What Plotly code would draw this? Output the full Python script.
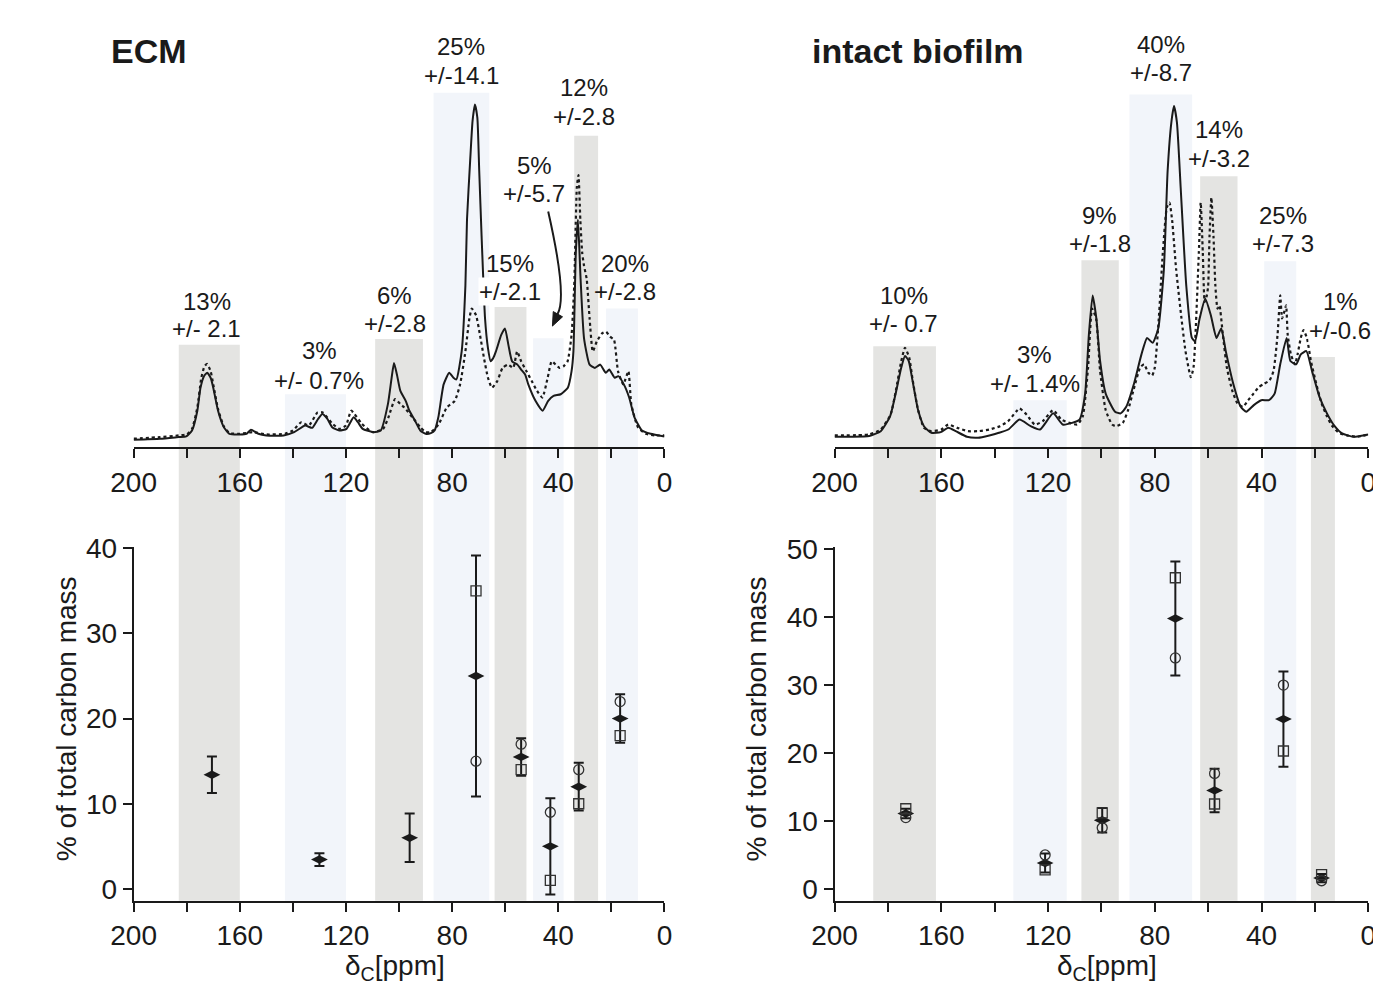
import plotly.graph_objects as go

# ---------------- data ----------------
# ECM 13C spectra (ppm, relative intensity)
ecm_solid_ppm = [200,190,183,180.2,178,176,174.8,173.5,172.3,171,170,168.2,166,163.9,160,157.5,155.8,153,150,143.5,
                 139.5,135.4,132.7,130.5,128.9,127,125.2,122.5,119.8,117.1,115.5,113.7,109.6,106.9,104.2,102.8,101.9,100.8,99.5,97.5,
                 96.1,94,92,90,88,86.6,85.2,83.2,81.1,79.5,78.4,76.4,75,74.4,73.2,72.3,71.4,70.5,69.8,68.9,
                 67.6,66.5,65.5,64.5,63.5,61.5,60.1,58.8,57.4,55.4,54,52.5,51.3,48.6,45.9,43.8,41.8,39.1,36.4,35,
                 34.3,33.4,32.6,31.6,30.3,28.2,26.2,24.2,22.1,20.8,18.7,17.4,15.3,13.3,11.3,8.5,5.2,0]
ecm_solid_int = [-1.3,-1.0,-0.5,-0.3,1.5,7.5,14.5,18,19,17.5,14.5,7.5,2.5,0.5,0.3,0.5,1.7,0.5,0,0,
                 1,3,2.3,5,6.5,5,2.5,1.5,2,5.5,4,2,1,1.5,9.5,17.5,22,18.5,13.5,10.5,
                 7.5,4.5,1.5,0.5,0.7,1.5,5.5,15.5,19,17.5,17,25.5,45.5,65.5,83.5,95.5,100.5,96.5,80.5,60.5,
                 35.5,26.5,22.5,23.5,25.5,30.5,32.5,27.5,22.5,21.5,20,18.5,15.5,10.5,7.5,10.5,12,12.5,14.5,19.5,
                 25.5,55.5,65.5,47.5,29.5,21.5,20.5,21.5,19,20,17.5,18,15.5,11.5,5.5,1.5,0.5,-0.3]
ecm_dot_ppm = [200,190,183,180,178,176,174.5,173.3,172.3,171,170,168.2,166,163.9,160,155,150,143,140,136.8,
               134,130.7,128.9,125,122.5,120,118,114,110,106,104,101.5,99.5,98,95,92,90,88,85,82,
               79,77,75,73.5,72.6,71,69.5,68,66.5,65,63,61,59,57,55.5,54,52,50,48,46,
               44,42.5,41,39.5,38,36.5,35,34,33,32.4,31.7,31,30.3,29.3,28.2,27,25.5,23.5,22,20.5,
               19,17.5,15.5,13.6,12.5,10,7,3.5,0]
ecm_dot_int = [-1,-0.5,0,0.3,2,8.5,17.5,21,21.7,19.5,15.5,8,2.7,0.7,0.5,1,0.3,0.5,1.5,4,
               3,7,7,3.5,2,3,7.5,3.5,1,2,5.5,11,9.5,8.5,5.5,2.5,1,1,3.5,8.5,
               10.5,15.5,25.5,35.5,38.5,36.5,30.5,23.5,17.5,14.5,16.5,20.5,21.5,20.5,25.5,22.5,19.5,16.5,13.5,11.5,
               17.5,22.5,21.5,20.5,21,22.5,30.5,45.5,75.5,79,65.5,55.5,51.5,47.5,35.5,25.5,28.5,31,31.5,30,
               29,19.5,15.5,19.5,9.5,2.5,0.5,0,0]

# intact biofilm 13C spectra
bio_solid_ppm = [200,194,187,182.7,179.2,177.1,175,173.6,172.2,170.8,168.7,166.5,163.7,160.2,157.4,154.6,150.4,146.2,142,138.4,
                 134.9,130.7,126.5,123,118.1,114.5,111,108.2,106.1,104.7,103.3,101.9,100.5,98.4,94.9,92.8,90.7,87.8,85,82.9,
                 80.8,78.7,76.6,75.2,73.8,72.8,71.7,70.3,68.2,66.1,64.9,63.2,61.1,59,56.9,55.1,53.4,50.6,47.8,45.7,
                 42.9,40.1,37.2,35.1,33,30.6,29.2,27,25.3,23.2,21.1,18.3,15.5,12.6,9.8,5.6,0]
bio_solid_int = [-0.4,-0.4,-0.2,1.3,5.8,12.7,20.6,24.1,22.6,16.7,7.7,2.8,0.8,1.0,2.3,1.3,-0.4,-0.7,0,0.8,
                 1.8,4.8,2.8,1.8,6.7,3.3,3.8,4.8,12.7,30.6,42.5,35.5,22.6,12.7,7.2,6.7,8.7,15.7,24.6,29.6,
                 28.1,32.5,50.4,80.2,95,100,95,75.2,45.4,29.6,28.6,35.5,41.5,36.5,29.6,32.5,25.6,15.7,8.7,7.2,
                 9.2,10.7,10.7,12.7,21.6,29.6,22.6,21.6,24.6,25.6,19.6,11.7,6.7,2.8,0.6,-0.4,0.3]
bio_dot_ppm = [200,187,182.7,179,177,175,173.6,172,170.8,168.7,166.5,164,160,157.4,154,150,146,142,138,135,
               132,130.7,128,125,122,118.1,115,112,109,107,105,103.5,102,100.5,98.4,96,94.5,92,90,88,
               85.5,84,82.5,81,80,78.5,77,75.5,74.5,73.5,72,70,68.5,66.5,65.5,63.5,62.8,62,61.3,60.5,
               60,59.5,58.8,58,57.3,56.5,55.8,54.5,53,51,49,47,45,43,41,39,37,35.5,34,33,
               32.3,31.5,30.8,30.2,29,27.5,26.5,25.3,24.3,23,21.5,19.5,17.5,15.5,13.5,11,8,4,0]
bio_dot_int = [0,0.3,1.8,6.3,13.7,22.6,26.6,23.6,17.2,7.7,2.3,1.3,1.8,3.3,2.3,1.3,1.3,1.8,2.8,4.3,
               7.2,8.2,6.3,3.3,4.3,7.7,4.8,3.8,3.3,5.8,20.6,38.5,35.5,19.6,7.7,3.3,2.8,3.8,7.7,13.7,
               20.6,21.6,19.1,18.2,20.6,35.5,55.4,69.2,70.7,65.3,50.4,35.5,25.6,17.7,20.6,55.4,70.7,55.4,40.5,42.5,
               45.4,60.3,72.2,60.3,45.4,38.5,39.5,30.6,20.6,13.7,9.7,8.7,10.7,12.7,14.7,15.7,16.7,19.6,30.6,42.5,
               35.5,37.5,39.5,30.6,24.6,21.6,24.6,29.6,32,29.6,22.6,15.7,9.7,5.8,2.8,0.8,0,-0.4,0.3]

# integration regions (ppm) and their height in the spectrum panel
ecm_band_lo = [160, 120, 91, 66, 52, 38, 25, 10]
ecm_band_hi = [183, 143, 109, 87, 64, 49.5, 34, 22]
ecm_band_top = [27.5, 12.5, 29.3, 104, 39, 29.5, 91, 38.5]
ecm_band_kind = ["g", "b", "g", "b", "g", "b", "g", "b"]
bio_band_lo = [162, 113, 93.5, 66, 49, 27, 12.5]
bio_band_hi = [185.5, 133, 107.5, 89.5, 63, 39, 21.5]
bio_band_top = [27.1, 10.7, 53.2, 103.5, 78.7, 52.9, 23.8]
bio_band_kind = ["g", "b", "g", "b", "g", "b", "g"]

# region labels
ecm_pct = ["13%", "3%", "6%", "25%", "15%", "5%", "12%", "20%"]
ecm_pm = ["+/- 2.1", "+/- 0.7%", "+/-2.8", "+/-14.1", "+/-2.1", "+/-5.7", "+/-2.8", "+/-2.8"]
bio_pct = ["10%", "3%", "9%", "40%", "14%", "25%", "1%"]
bio_pm = ["+/- 0.7", "+/- 1.4%", "+/-1.8", "+/-8.7", "+/-3.2", "+/-7.3", "+/-0.6"]

# % of total carbon mass (mean, error, two replicates)
ecm_x = [170.5, 130, 96, 71, 54, 43, 32.3, 16.7]
ecm_mean = [13.4, 3.45, 6.0, 25.0, 15.5, 5.0, 12.0, 20.0]
ecm_err = [2.15, 0.75, 2.85, 14.15, 2.2, 5.65, 2.8, 2.85]
ecm_circle = [None, None, None, 15.0, 17.0, 9.0, 14.0, 22.0]
ecm_square = [None, None, None, 35.0, 14.0, 1.0, 10.0, 18.0]

bio_x = [173.3, 121.1, 99.7, 72.3, 57.6, 31.8, 17.5]
bio_mean = [11.1, 3.8, 10.1, 39.8, 14.5, 25.0, 1.6]
bio_err = [0.7, 1.4, 1.8, 8.4, 3.2, 7.0, 0.6]
bio_circle = [10.5, 5.0, 9.0, 34.0, 17.0, 30.0, 1.2]
bio_square = [11.8, 2.8, 11.2, 45.8, 12.5, 20.3, 2.1]

for a, b in [(ecm_solid_ppm, ecm_solid_int), (ecm_dot_ppm, ecm_dot_int),
             (bio_solid_ppm, bio_solid_int), (bio_dot_ppm, bio_dot_int)]:
    assert len(a) == len(b), (len(a), len(b))

# ---------------- layout helpers ----------------
W, H = 1381, 989
FONT = "Liberation Sans, Arial, Helvetica, sans-serif"
INK = "#1a1a1a"
GRAY = "#e4e4e2"
BLUE = "#f2f5fa"


def px(p):
    return p / W


def py(p):
    return 1 - p / H


SPEC_RANGE = [-3.55, 112.1]
top_dom = [py(433), py(45)]
bot_dom = [py(895), py(535)]
left_dom = [px(105), px(648)]
right_dom = [px(822), px(1368)]

fig = go.Figure()

# spectra
for xa, ya, sp, si, dp, di in [("x", "y", ecm_solid_ppm, ecm_solid_int, ecm_dot_ppm, ecm_dot_int),
                               ("x3", "y3", bio_solid_ppm, bio_solid_int, bio_dot_ppm, bio_dot_int)]:
    fig.add_trace(go.Scatter(x=dp, y=di, mode="lines", xaxis=xa, yaxis=ya,
                             line=dict(color=INK, width=2.2, dash="dot", shape="spline", smoothing=0.5),
                             showlegend=False, hoverinfo="skip"))
    fig.add_trace(go.Scatter(x=sp, y=si, mode="lines", xaxis=xa, yaxis=ya,
                             line=dict(color=INK, width=2, shape="spline", smoothing=0.5),
                             showlegend=False, hoverinfo="skip"))

# scatter panels
for xa, ya, xs, mean, err, circ, sq in [("x2", "y2", ecm_x, ecm_mean, ecm_err, ecm_circle, ecm_square),
                                        ("x4", "y4", bio_x, bio_mean, bio_err, bio_circle, bio_square)]:
    fig.add_trace(go.Scatter(x=xs, y=mean, mode="markers", xaxis=xa, yaxis=ya,
                             error_y=dict(type="data", array=err, visible=True, color=INK, thickness=2, width=5),
                             marker=dict(symbol="diamond-wide", size=12, color=INK),
                             showlegend=False, hoverinfo="skip"))
    fig.add_trace(go.Scatter(x=xs, y=circ, mode="markers", xaxis=xa, yaxis=ya,
                             marker=dict(symbol="circle-open", size=10, color="#333333", line=dict(width=1.3)),
                             showlegend=False, hoverinfo="skip"))
    fig.add_trace(go.Scatter(x=xs, y=sq, mode="markers", xaxis=xa, yaxis=ya,
                             marker=dict(symbol="square-open", size=10, color="#333333", line=dict(width=1.3)),
                             showlegend=False, hoverinfo="skip"))

# shaded integration regions (spectrum part + continuation down to lower axis)
shapes = []
for xr, yr, lo, hi, top, kind in [("x", "y", ecm_band_lo, ecm_band_hi, ecm_band_top, ecm_band_kind),
                                  ("x3", "y3", bio_band_lo, bio_band_hi, bio_band_top, bio_band_kind)]:
    for l, h, t, k in zip(lo, hi, top, kind):
        col = GRAY if k == "g" else BLUE
        shapes.append(dict(type="rect", xref=xr, yref=yr, x0=h, x1=l, y0=SPEC_RANGE[0], y1=t,
                           fillcolor=col, line=dict(width=0), layer="below"))
        shapes.append(dict(type="rect", xref=xr, yref="paper", x0=h, x1=l, y0=bot_dom[0], y1=top_dom[0],
                           fillcolor=col, line=dict(width=0), layer="below"))

# curved arrow for the 5 % region, with a filled head
shapes.append(dict(type="path", xref="x", yref="y", path="M 43.8,68 Q 36.5,42 40.3,36.8",
                   line=dict(color=INK, width=2)))
shapes.append(dict(type="path", xref="x", yref="y", path="M 42.2,33.2 L 38.4,36.0 L 41.9,37.6 Z",
                   fillcolor=INK, line=dict(color=INK, width=1)))

ann = []
# label positions: (ppm, pixel y of first line, pixel y of second line)
ecm_lab_pos = [(172.4, 285, 312), (130, 335, 365), (101.7, 279, 307), (76.6, 25, 54),
               (58.2, 246, 274), (49, 146, 175), (30.2, 67, 96), (14.7, 246, 274)]
bio_lab_pos = [(174, 279, 307), (124.9, 339, 368), (100.7, 197, 226), (77.7, 23, 51),
               (56, 110, 139), (31.9, 197, 226), (10.5, 285, 314)]
for xr, pcts, pms, pos in [("x", ecm_pct, ecm_pm, ecm_lab_pos), ("x3", bio_pct, bio_pm, bio_lab_pos)]:
    for p, m, (xx, y1, y2) in zip(pcts, pms, pos):
        for txt, yy in [(p, y1), (m, y2)]:
            a = dict(x=xx, y=py(yy), xref=xr, yref="paper", text=txt, showarrow=False,
                     xanchor="center", yanchor="middle", font=dict(family=FONT, size=24, color=INK),
                     borderpad=0)
            if txt in ("+/-2.1", "+/-0.6"):
                a["bgcolor"] = "white"
            ann.append(a)

# panel titles
ann.append(dict(x=px(80), y=py(30), xref="paper", yref="paper", text="ECM", showarrow=False,
                xanchor="left", yanchor="middle", font=dict(family=FONT, size=34, color=INK, weight="bold")))
ann.append(dict(x=px(797), y=py(30), xref="paper", yref="paper", text="intact biofilm", showarrow=False,
                xanchor="left", yanchor="middle", font=dict(family=FONT, size=34, color=INK, weight="bold")))

# axis titles
for xp in [372, 1101]:
    ann.append(dict(x=px(xp), y=py(963), xref="paper", yref="paper", text="δ<sub>C</sub>[ppm]",
                    showarrow=False, xanchor="center", yanchor="middle",
                    font=dict(family=FONT, size=28, color=INK)))
for xp in [36, 742]:
    ann.append(dict(x=px(xp), y=py(710), xref="paper", yref="paper", text="% of total carbon mass",
                    showarrow=False, textangle=-90, xanchor="center", yanchor="middle",
                    font=dict(family=FONT, size=28, color=INK)))

xcommon = dict(range=[200, 0], showline=True, linecolor=INK, linewidth=2, ticks="outside",
               ticklen=9, tickwidth=2, tickcolor=INK, tick0=0, dtick=40,
               minor=dict(ticks="outside", dtick=20, tick0=0, ticklen=9, tickwidth=2, tickcolor=INK,
                          showgrid=False),
               showgrid=False, zeroline=False, tickfont=dict(family=FONT, size=28, color=INK), fixedrange=True)
ytop = dict(range=SPEC_RANGE, visible=False, showgrid=False, zeroline=False, domain=top_dom)
ybot = dict(showline=True, linecolor=INK, linewidth=2, ticks="outside", ticklen=9, tickwidth=2,
            tickcolor=INK, showgrid=False, zeroline=False, tickfont=dict(family=FONT, size=28, color=INK),
            domain=bot_dom, tick0=0, dtick=10)

fig.update_layout(
    width=W, height=H, margin=dict(l=0, r=0, t=0, b=0),
    paper_bgcolor="white", plot_bgcolor="rgba(0,0,0,0)",
    showlegend=False,
    xaxis=dict(xcommon, domain=left_dom, anchor="y"),
    yaxis=dict(ytop, anchor="x"),
    xaxis2=dict(xcommon, domain=left_dom, anchor="y2"),
    yaxis2=dict(ybot, anchor="x2", range=[-1.383, 40.115]),
    xaxis3=dict(xcommon, domain=right_dom, anchor="y3"),
    yaxis3=dict(ytop, anchor="x3"),
    xaxis4=dict(xcommon, domain=right_dom, anchor="y4"),
    yaxis4=dict(ybot, anchor="x4", range=[-1.734, 50.29]),
    shapes=shapes,
    annotations=ann,
)

fig.write_html("out.html")
